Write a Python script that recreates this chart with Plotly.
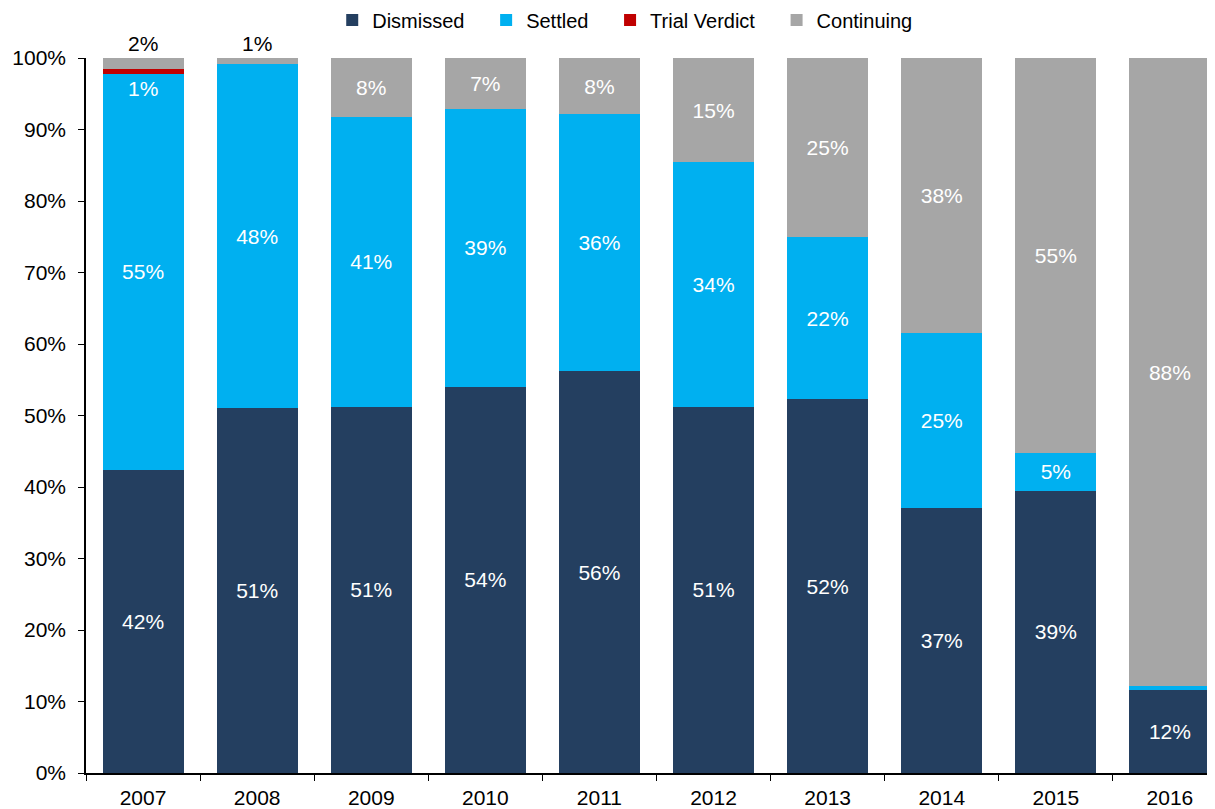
import plotly.graph_objects as go

years = ["2007", "2008", "2009", "2010", "2011", "2012", "2013", "2014", "2015", "2016"]
dismissed = [42.4, 51.0, 51.2, 54.0, 56.2, 51.2, 52.3, 37.0, 39.5, 11.6]
settled = [55.4, 48.2, 40.6, 38.9, 35.9, 34.2, 22.6, 24.6, 5.3, 0.5]
trial_verdict = [0.6, 0, 0, 0, 0, 0, 0, 0, 0, 0]
continuing = [1.6, 0.8, 8.2, 7.1, 7.9, 14.6, 25.1, 38.4, 55.2, 87.9]

dismissed_labels = ["42%", "51%", "51%", "54%", "56%", "51%", "52%", "37%", "39%", "12%"]
settled_labels = ["55%", "48%", "41%", "39%", "36%", "34%", "22%", "25%", "5%", ""]
continuing_labels = ["", "", "8%", "7%", "8%", "15%", "25%", "38%", "55%", "88%"]
outside_labels = {"2007": "2%", "2008": "1%"}
trial_label_year = "2007"
trial_label = "1%"

colors = {
    "Dismissed": "#243F60",
    "Settled": "#00B0F0",
    "Trial Verdict": "#C00000",
    "Continuing": "#A6A6A6",
}

FONT = "Liberation Sans, Arial, sans-serif"
PAD = "\u00a0\u00a0\u00a0"

fig = go.Figure()
series = [
    ("Dismissed", dismissed, dismissed_labels),
    ("Settled", settled, settled_labels),
    ("Trial Verdict", trial_verdict, [""] * len(years)),
    ("Continuing", continuing, continuing_labels),
]
for name, vals, labels in series:
    fig.add_trace(go.Bar(
        x=years, y=vals, name=name + PAD,
        marker=dict(color=colors[name], line=dict(width=0)),
        text=labels, textposition="inside", insidetextanchor="middle",
        textfont=dict(color="white", size=21, family=FONT),
        constraintext="none",
        hovertemplate=name + " %{x}: %{y:.1f}%<extra></extra>",
    ))

for yr, lab in outside_labels.items():
    fig.add_annotation(x=years.index(yr), y=100, text=lab, showarrow=False,
                       yanchor="bottom", yshift=1,
                       font=dict(size=21, color="black", family=FONT))

i = years.index(trial_label_year)
fig.add_annotation(x=i, y=dismissed[i] + settled[i] - 2, text=trial_label,
                   showarrow=False, yanchor="middle",
                   font=dict(size=21, color="white", family=FONT))

fig.update_layout(
    barmode="stack",
    bargap=0.29,
    width=1207, height=801,
    margin=dict(l=78, r=0, t=50, b=34),
    plot_bgcolor="white", paper_bgcolor="white",
    font=dict(family=FONT, size=21, color="black"),
    uniformtext=dict(minsize=21, mode="show"),
    showlegend=True,
    legend=dict(orientation="h", xref="container", yref="container",
                x=0.518, xanchor="center", y=0.985, yanchor="middle",
                font=dict(size=20, color="black", family=FONT),
                itemwidth=30, traceorder="normal", itemclick=False),
    xaxis=dict(
        type="category", range=[-0.5, 9.395],
        showline=True, linecolor="black", linewidth=1.5,
        ticks="outside", tickson="boundaries", ticklen=6, tickcolor="black",
        ticklabelstandoff=5,
        tickfont=dict(size=21, color="black", family=FONT),
        showgrid=False, zeroline=False, fixedrange=True,
    ),
    yaxis=dict(
        range=[0, 100], tickvals=[0, 10, 20, 30, 40, 50, 60, 70, 80, 90, 100],
        ticktext=[f"{v}%" for v in range(0, 101, 10)],
        showline=True, linecolor="black", linewidth=1.5,
        ticks="outside", ticklen=6, tickcolor="black",
        ticklabelstandoff=8,
        tickfont=dict(size=21, color="black", family=FONT),
        showgrid=False, zeroline=False, fixedrange=True,
    ),
)

fig.write_html("out.html")
